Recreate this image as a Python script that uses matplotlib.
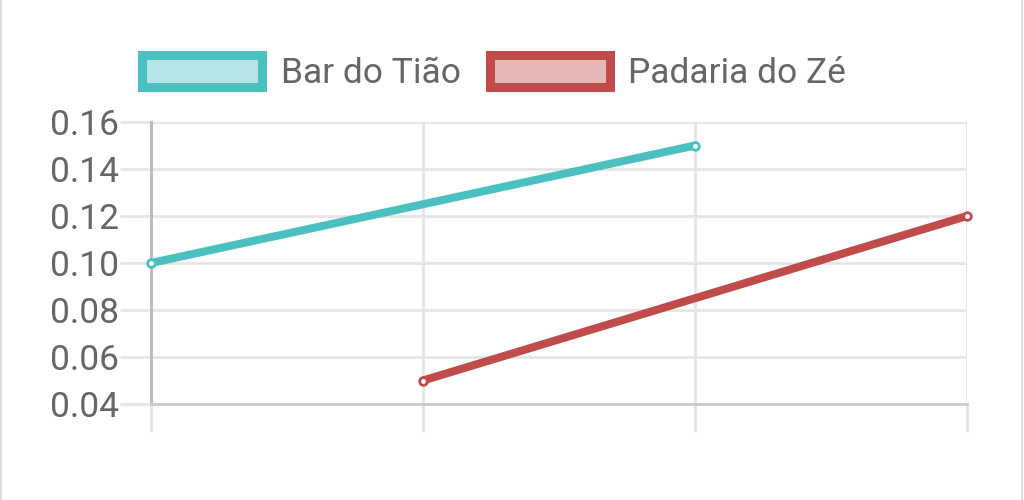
import matplotlib
matplotlib.use("Agg")
import matplotlib.pyplot as plt
from matplotlib.patches import Patch
from matplotlib.lines import Line2D

categories = ["", "", "", ""]
bar_tiao = [0.10, None, 0.15, None]
padaria_ze = [None, 0.05, None, 0.12]
series_names = ["Bar do Tião", "Padaria do Zé"]
y_ticks = [0.04, 0.06, 0.08, 0.10, 0.12, 0.14, 0.16]

cyan = (75/255, 192/255, 192/255)
red = (192/255, 75/255, 75/255)
cyan_fill = (75/255, 192/255, 192/255, 0.4)
red_fill = (192/255, 75/255, 75/255, 0.4)
grid_c = "#e6e6e6"
axis_c = "#bbbbbb"
base_c = "#cccccc"
text_c = "#666666"

plt.rcParams["font.family"] = ["Roboto", "DejaVu Sans"]

fig = plt.figure(figsize=(10.24, 5.0), dpi=100)
ax = fig.add_axes([151/1024, 1-404/500, (967-151)/1024, (404-122)/500])

xs = list(range(len(categories)))
for vals, col in ((bar_tiao, cyan), (padaria_ze, red)):
    px = [x for x, v in zip(xs, vals) if v is not None]
    py = [v for v in vals if v is not None]
    ax.plot(px, py, color=col, lw=5.8, solid_capstyle="round",
            marker="o", ms=5.5, mfc="white", mec=col, mew=2.0,
            clip_on=False, zorder=5)

ax.set_xlim(0, len(categories)-1)
ax.set_ylim(y_ticks[0], y_ticks[-1])
ax.set_xticks(xs)
ax.set_xticklabels(categories)
ax.set_yticks(y_ticks)
ax.set_yticklabels([f"{t:.2f}" for t in y_ticks])

ax.grid(True, color=grid_c, lw=2.1)
ax.set_axisbelow(True)
for s in ("top", "right"):
    ax.spines[s].set_visible(False)
ax.spines["left"].set_color(axis_c)
ax.spines["left"].set_linewidth(2.1)
ax.spines["bottom"].set_color(base_c)
ax.spines["bottom"].set_linewidth(2.1)

ax.tick_params(axis="y", length=22, width=2.1, color=grid_c, pad=1,
               labelsize=25.5, labelcolor=text_c)
ax.tick_params(axis="x", length=20, width=2.1, color=grid_c, pad=1,
               labelsize=25.5, labelcolor=text_c)
ax.xaxis.get_major_ticks()[0].tick1line.set_color(axis_c)

handles = [Patch(facecolor=cyan_fill, edgecolor=cyan, linewidth=6.5),
           Patch(facecolor=red_fill, edgecolor=red, linewidth=6.5)]
leg = fig.legend(handles, series_names, loc="center",
                 bbox_to_anchor=(494/1024, 1-72.5/500), ncol=2, frameon=False,
                 fontsize=25.5, labelcolor=text_c, handlelength=3.39,
                 handleheight=1.02, handletextpad=0.52, columnspacing=0.82,
                 borderaxespad=0, borderpad=0)

fig.add_artist(Line2D([1/1024, 1/1024], [0, 1], color="#dddddd", lw=1.5,
                      transform=fig.transFigure))
fig.add_artist(Line2D([1022/1024, 1022/1024], [0, 1], color="#dddddd", lw=1.5,
                      transform=fig.transFigure))

fig.savefig("out.png", dpi=100, facecolor="white")
